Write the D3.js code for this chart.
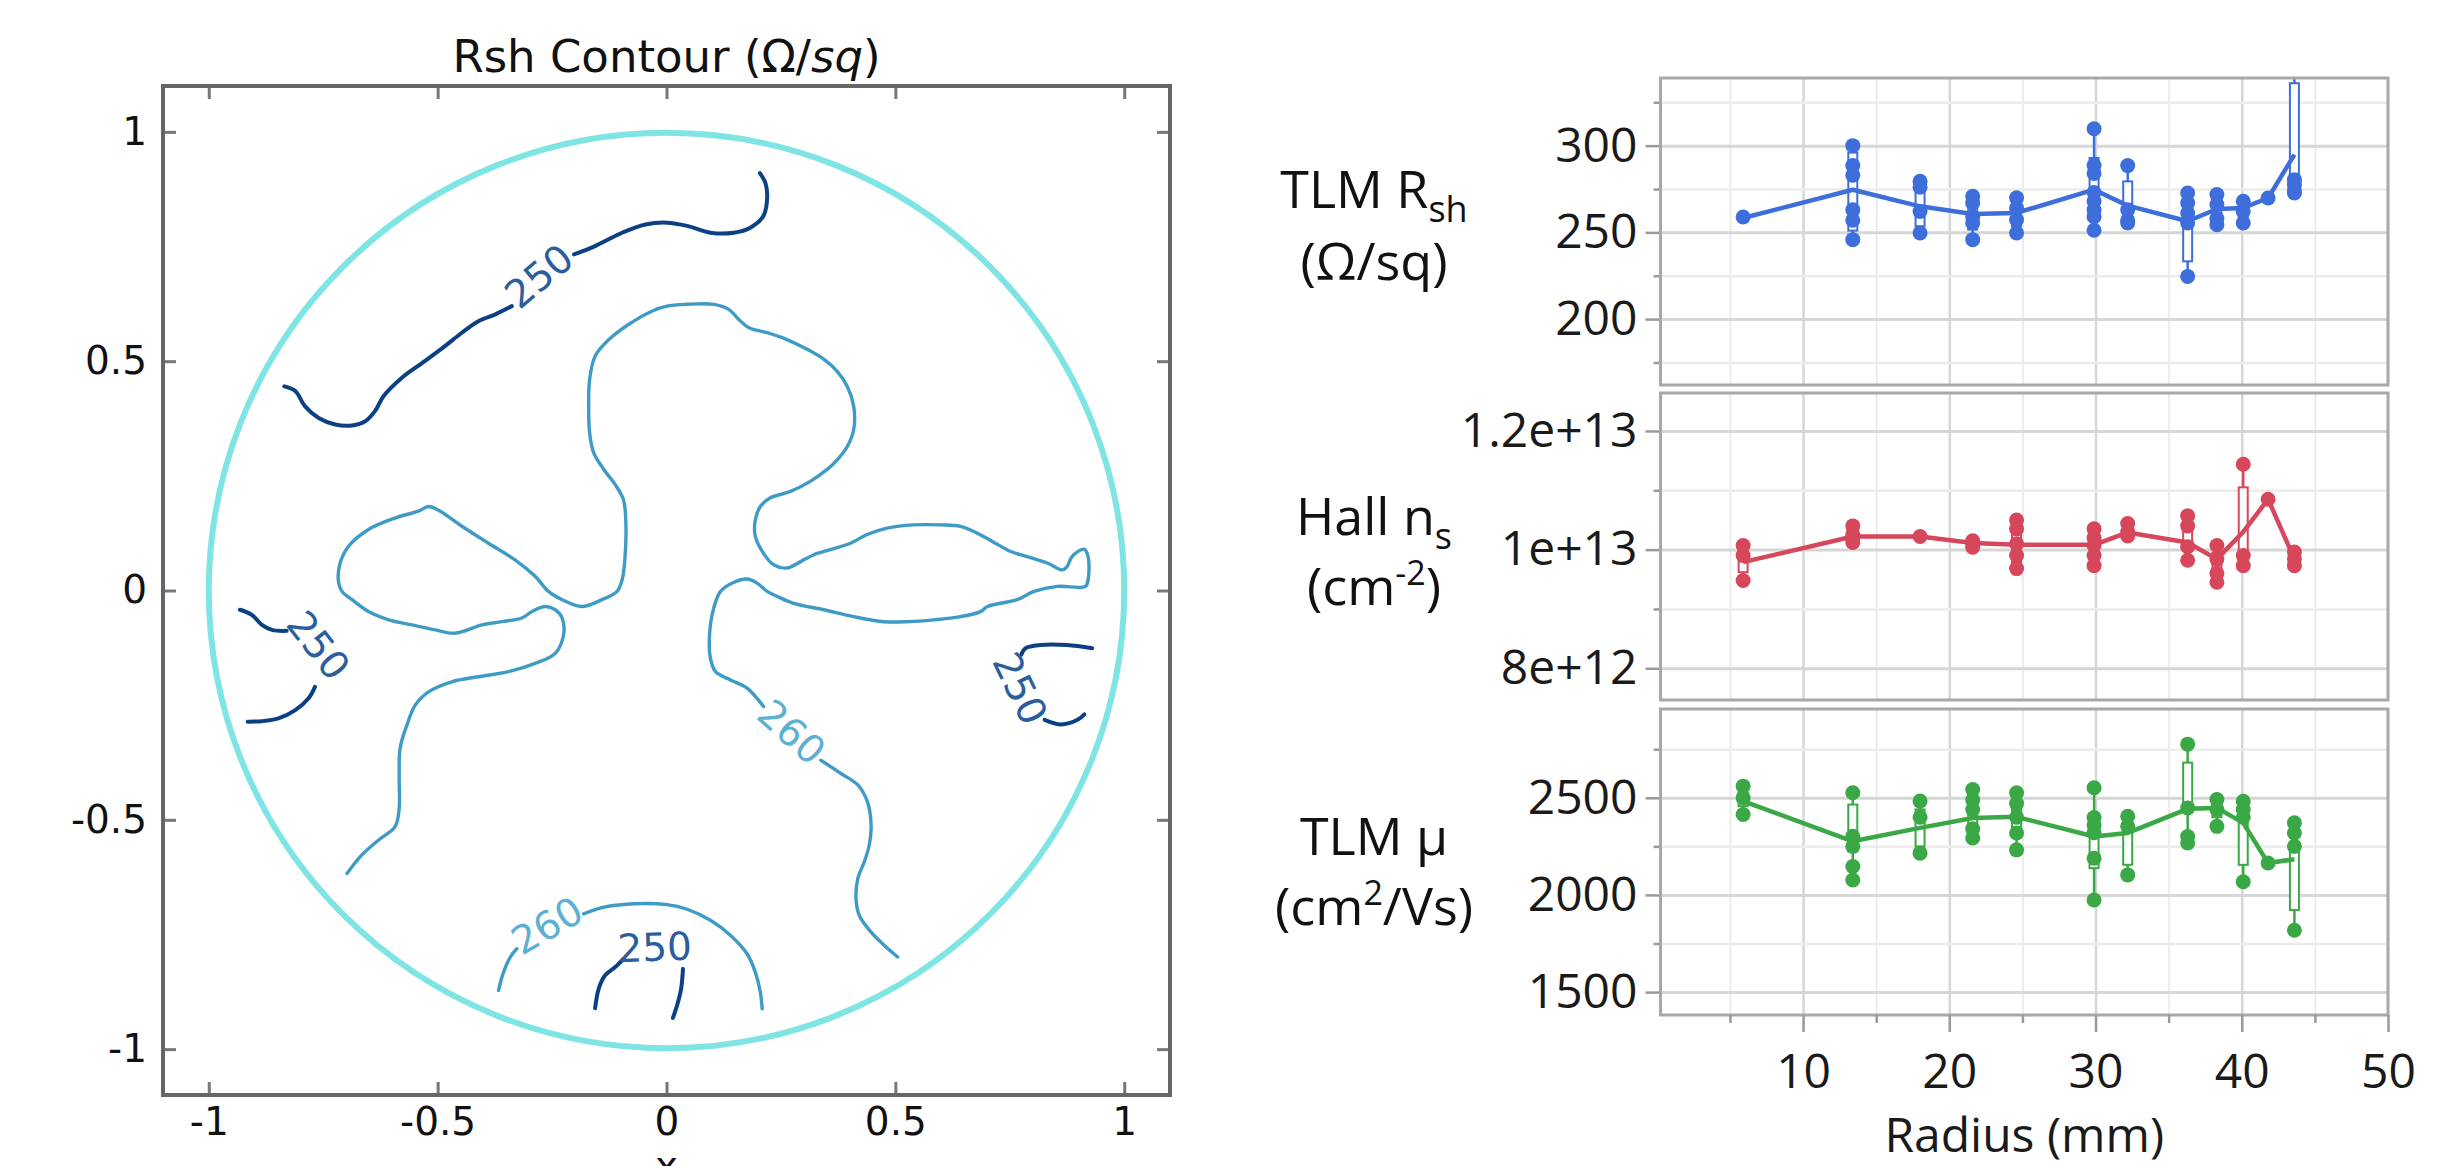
<!DOCTYPE html>
<html>
<head>
<meta charset="utf-8">
<title>Rsh contour and radial profiles</title>
<script src="https://cdn.jsdelivr.net/npm/d3@7"></script>
<style>
  body { margin: 0; background: #fff; }
</style>
</head>
<body>
<script>
// ---------- left: Rsh contour map (wafer coordinates) ----------
var contourTicks = [-1, -0.5, 0, 0.5, 1];

// 250 level, split where the inline labels sit
var top250a = [[-0.835,0.445],[-0.811,0.435],[-0.790,0.402],[-0.760,0.376],[-0.724,0.362],[-0.687,0.360],[-0.658,0.369],[-0.637,0.391],[-0.618,0.424],[-0.578,0.464],[-0.534,0.496],[-0.484,0.533],[-0.447,0.562],[-0.411,0.587],[-0.374,0.602],[-0.338,0.620]];
var top250b = [[-0.202,0.733],[-0.156,0.751],[-0.097,0.780],[-0.046,0.798],[0.001,0.802],[0.045,0.795],[0.096,0.780],[0.147,0.780],[0.183,0.791],[0.212,0.817],[0.220,0.860],[0.216,0.889],[0.204,0.910]];
var left250a = [[-0.932,-0.042],[-0.906,-0.053],[-0.884,-0.075],[-0.862,-0.086],[-0.830,-0.088]];
var left250b = [[-0.768,-0.210],[-0.782,-0.235],[-0.811,-0.261],[-0.848,-0.279],[-0.884,-0.285],[-0.915,-0.286]];
var right250a = [[0.930,-0.126],[0.875,-0.119],[0.817,-0.119],[0.784,-0.126],[0.775,-0.140]];
var right250b = [[0.826,-0.282],[0.862,-0.292],[0.898,-0.282],[0.913,-0.270]];
var bottom250a = [[-0.156,-0.911],[-0.148,-0.868],[-0.134,-0.839],[-0.112,-0.821],[-0.094,-0.803]];
var bottom250b = [[0.036,-0.825],[0.032,-0.868],[0.023,-0.905],[0.014,-0.932]];

// 260 level
var main260 = [[-0.698,-0.617],[-0.666,-0.577],[-0.629,-0.544],[-0.593,-0.515],[-0.584,-0.475],[-0.584,-0.410],[-0.582,-0.344],[-0.567,-0.293],[-0.549,-0.250],[-0.520,-0.221],[-0.469,-0.199],[-0.411,-0.188],[-0.345,-0.177],[-0.287,-0.159],[-0.243,-0.137],[-0.225,-0.097],[-0.228,-0.060],[-0.243,-0.042],[-0.265,-0.035],[-0.294,-0.046],[-0.316,-0.060],[-0.360,-0.068],[-0.403,-0.075],[-0.462,-0.093],[-0.505,-0.086],[-0.556,-0.075],[-0.607,-0.064],[-0.651,-0.046],[-0.687,-0.020],[-0.709,-0.002],[-0.717,0.023],[-0.713,0.060],[-0.695,0.096],[-0.651,0.133],[-0.593,0.158],[-0.542,0.173],[-0.520,0.183],[-0.498,0.175],[-0.447,0.140],[-0.389,0.103],[-0.331,0.067],[-0.287,0.031],[-0.258,-0.002],[-0.228,-0.020],[-0.185,-0.035],[-0.141,-0.020],[-0.108,-0.002],[-0.097,0.023],[-0.091,0.067],[-0.089,0.154],[-0.094,0.198],[-0.112,0.231],[-0.137,0.264],[-0.159,0.300],[-0.168,0.344],[-0.170,0.402],[-0.168,0.460],[-0.156,0.511],[-0.126,0.547],[-0.083,0.580],[-0.032,0.609],[0.001,0.620],[0.045,0.624],[0.103,0.624],[0.136,0.613],[0.158,0.591],[0.180,0.573],[0.220,0.562],[0.263,0.547],[0.307,0.526],[0.344,0.504],[0.373,0.478],[0.395,0.445],[0.409,0.402],[0.409,0.351],[0.395,0.314],[0.373,0.285],[0.351,0.264],[0.314,0.238],[0.271,0.216],[0.227,0.202],[0.205,0.183],[0.194,0.154],[0.194,0.118],[0.212,0.081],[0.234,0.056],[0.263,0.049],[0.293,0.063],[0.322,0.078],[0.358,0.089],[0.402,0.103],[0.438,0.122],[0.482,0.136],[0.540,0.143],[0.599,0.143],[0.642,0.140],[0.679,0.125],[0.712,0.107],[0.752,0.085],[0.788,0.074],[0.832,0.060],[0.865,0.045],[0.875,0.052],[0.886,0.074],[0.912,0.090],[0.921,0.074],[0.921,0.023],[0.915,0.009],[0.854,0.009],[0.803,-0.002],[0.766,-0.020],[0.701,-0.035],[0.686,-0.046],[0.642,-0.057],[0.584,-0.064],[0.526,-0.068],[0.475,-0.068],[0.409,-0.057],[0.344,-0.042],[0.278,-0.028],[0.242,-0.013],[0.220,-0.002],[0.198,0.016],[0.176,0.025],[0.143,0.016],[0.118,-0.002],[0.103,-0.039],[0.094,-0.097],[0.096,-0.148],[0.107,-0.177],[0.140,-0.195],[0.176,-0.213],[0.212,-0.253]];
var leg260 = [[0.337,-0.370],[0.381,-0.399],[0.418,-0.424],[0.439,-0.461],[0.447,-0.512],[0.443,-0.555],[0.432,-0.592],[0.418,-0.628],[0.414,-0.672],[0.421,-0.708],[0.447,-0.745],[0.476,-0.774],[0.505,-0.799]];
var bottom260a = [[-0.367,-0.872],[-0.356,-0.832],[-0.341,-0.799],[-0.327,-0.781]];
var bottom260b = [[-0.181,-0.705],[-0.134,-0.690],[-0.068,-0.683],[0.001,-0.685],[0.045,-0.695],[0.096,-0.719],[0.140,-0.752],[0.176,-0.792],[0.194,-0.832],[0.205,-0.876],[0.209,-0.912]];

var lines250 = [top250a, top250b, left250a, left250b, right250a, right250b, bottom250a, bottom250b];
var lines260 = [main260, leg260, bottom260a, bottom260b];

// inline labels: text, x, y, angle
var labels250 = [["250",-0.279,0.686,-40],["250",-0.760,-0.119,52],["250",0.773,-0.213,64],["250",-0.026,-0.777,-2]];
var labels260 = [["260",0.274,-0.308,42],["260",-0.261,-0.730,-30]];

// ---------- right: radial profiles ----------
var radius = [5.9, 13.4, 18.0, 21.6, 24.6, 29.9, 32.2, 36.3, 38.3, 40.1, 41.8, 43.6];

var rshMean = [258.3, 274.6, 265, 260.6, 261.2, 274.6, 265.4, 256.4, 263.5, 264.1, 269.8, 294.8];
var rshPoints = [[258.9],[300,288.5,283,263,257,245.8],[279.4,276,262,249.6],[270.8,267,259,255.4,245.8],[269.9,264,257.3,249.6],[309.7,288.5,284,273,268,263,259,251.2],[288.5,263,257,255.4],[272.7,267,261.2,255.4,224.6],[271.8,266,258,254.4],[267.9,262.1,255.4],[269.8],[280.4,277.5,274,272.7,350]];
var rshBox = [null,[251,296],[253.5,275.6],[251.6,265],[253.5,266],[258.3,292.9],[262,279.4],[233.3,255.4],[257.6,266],[258,264],null,[274.6,336]];

var nsMean = [9.79e12, 10.22e12, 10.22e12, 10.11e12, 10.08e12, 10.08e12, 10.29e12, 10.12e12, 9.84e12, 10.3e12, 10.85e12, 9.84e12];
var nsPoints = [[10.07e12,9.9e12,9.48e12],[10.40e12,10.26e12,10.2e12,10.12e12],[10.22e12],[10.15e12,10.1e12,10.04e12],[10.5e12,10.35e12,10.1e12,9.9e12,9.68e12],[10.35e12,10.2e12,10.07e12,9.9e12,9.73e12],[10.44e12,10.3e12,10.23e12],[10.57e12,10.4e12,10.05e12,9.82e12],[10.07e12,9.84e12,9.6e12,9.45e12],[11.44e12,9.9e12,9.73e12],[10.85e12],[9.96e12,9.84e12,9.73e12]];
var nsBox = [[9.62e12,9.98e12],null,null,null,[9.79e12,10.35e12],null,null,[10.01e12,10.4e12],[9.62e12,9.95e12],[9.84e12,11.05e12],null,null];

var muMean = [2483, 2276, 2345, 2396, 2402, 2301, 2319, 2443, 2448, 2371, 2164, 2184];
var muPoints = [[2560,2500,2414],[2526,2302,2250,2146,2077],[2483,2400,2215],[2543,2490,2440,2340,2293],[2526,2470,2400,2319,2232],[2552,2398,2360,2320,2189,1974],[2405,2353,2103],[2776,2448,2301,2267],[2491,2440,2353],[2482,2440,2400,2068],[2164],[2371,2319,2250,1818]];
var muBox = [[2457,2526],[2224,2465],[2250,2440],[2353,2491],[2319,2500],[2138,2405],[2155,2371],[2448,2681],[2400,2470],[2155,2422],null,[1922,2232]];

var rshMajor = [200, 250, 300], rshMinor = [175, 225, 275, 325];
var nsMajor = [8e12, 1e13, 1.2e13], nsMinor = [9e12, 1.1e13];
var nsTickText = ["8e+12", "1e+13", "1.2e+13"];
var muMajor = [1500, 2000, 2500], muMinor = [1750, 2250, 2750];
var radiusMajor = [10, 20, 30, 40, 50], radiusMinor = [5, 15, 25, 35, 45];

var svg = d3.select("body").append("svg")
    .attr("width", 2450)
    .attr("height", 1166)
    .style("display", "block");

// ================= contour panel =================
var xC = d3.scaleLinear().domain([-1.1, 1.1]).range([163, 1170]);
var yC = d3.scaleLinear().domain([-1.1, 1.1]).range([1095, 86]);
var c250 = "#0b4184", c260 = "#3e9bc6", cRim = "#7fe4e4";

var left = svg.append("g").style("font-family", "'DejaVu Sans', sans-serif");

left.append("text")
    .attr("x", xC(0)).attr("y", 72)
    .attr("text-anchor", "middle")
    .style("font-size", "45px").attr("fill", "#111")
    .text("Rsh Contour (Ω/")
  .append("tspan").style("font-style", "italic").text("sq")
  .select(function(){ return this.parentNode; })
  .append("tspan").text(")");

// wafer rim
left.append("circle")
    .attr("cx", xC(0)).attr("cy", yC(0))
    .attr("r", xC(1) - xC(0))
    .attr("fill", "none").attr("stroke", cRim).attr("stroke-width", 6);

var lineC = d3.line()
    .x(function(d){ return xC(d[0]); })
    .y(function(d){ return yC(d[1]); })
    .curve(d3.curveCatmullRom.alpha(0.5));

left.append("g").selectAll("path").data(lines260).join("path")
    .attr("d", lineC).attr("fill", "none")
    .attr("stroke", c260).attr("stroke-width", 3.4).attr("stroke-linecap", "round");
left.append("g").selectAll("path").data(lines250).join("path")
    .attr("d", lineC).attr("fill", "none")
    .attr("stroke", c250).attr("stroke-width", 4).attr("stroke-linecap", "round");

function drawLabels(data, col) {
  left.append("g").selectAll("text").data(data).join("text")
      .attr("transform", function(d){ return "translate(" + xC(d[1]) + "," + yC(d[2]) + ") rotate(" + d[3] + ")"; })
      .attr("text-anchor", "middle").attr("dy", "0.36em")
      .style("font-size", "39px").attr("fill", col)
      .text(function(d){ return d[0]; });
}
drawLabels(labels250, "#2a5e9e");
drawLabels(labels260, "#5eb0d2");

// axes with inward ticks on all four sides
function styleAxis(g) {
  g.select(".domain").remove();
  g.selectAll(".tick line").attr("stroke", "#777").attr("stroke-width", 3);
  g.selectAll(".tick text").attr("fill", "#111").style("font-size", "39px")
      .style("font-family", "'DejaVu Sans', sans-serif");
}
left.append("g").attr("transform", "translate(0,1095)")
    .call(d3.axisBottom(xC).tickValues(contourTicks).tickSizeInner(-13).tickSizeOuter(0).tickPadding(12).tickFormat(String))
    .call(styleAxis);
left.append("g").attr("transform", "translate(0,86)")
    .call(d3.axisTop(xC).tickValues(contourTicks).tickSizeInner(-13).tickSizeOuter(0).tickFormat(""))
    .call(styleAxis);
left.append("g").attr("transform", "translate(163,0)")
    .call(d3.axisLeft(yC).tickValues(contourTicks).tickSizeInner(-13).tickSizeOuter(0).tickPadding(16).tickFormat(String))
    .call(styleAxis);
left.append("g").attr("transform", "translate(1170,0)")
    .call(d3.axisRight(yC).tickValues(contourTicks).tickSizeInner(-13).tickSizeOuter(0).tickFormat(""))
    .call(styleAxis);

left.append("rect")
    .attr("x", 163).attr("y", 86).attr("width", 1170 - 163).attr("height", 1095 - 86)
    .attr("fill", "none").attr("stroke", "#666").attr("stroke-width", 4);

// axis label, mostly below the picture edge (as in the source image)
left.append("text").attr("x", xC(0)).attr("y", 1179)
    .attr("text-anchor", "middle").style("font-size", "39px").attr("fill", "#111").text("x");

// ================= profile panels =================
var xR = d3.scaleLinear().domain([0.25, 50]).range([1660.5, 2388]);
var x0 = 1660.5, x1 = 2388;

var panels = [
  {mean: rshMean, pts: rshPoints, box: rshBox, dom: [162, 339], major: rshMajor, minor: rshMinor,
   fmt: function(d){ return String(d); }, color: "#3d6edb", top: 78, bottom: 385},
  {mean: nsMean, pts: nsPoints, box: nsBox, dom: [7.465e12, 1.264e13], major: nsMajor, minor: nsMinor,
   fmt: function(d, i){ return nsTickText[i]; }, color: "#d6475b", top: 393, bottom: 700},
  {mean: muMean, pts: muPoints, box: muBox, dom: [1382, 2957], major: muMajor, minor: muMinor,
   fmt: function(d){ return String(d); }, color: "#3aa845", top: 709, bottom: 1015}
];

var right = svg.append("g").style("font-family", "'Open Sans', 'Noto Sans', sans-serif");

panels.forEach(function(p, k) {
  var y = d3.scaleLinear().domain(p.dom).range([p.bottom, p.top]);
  var g = right.append("g");
  var h = p.bottom - p.top;

  // grid
  g.append("g").attr("transform", "translate(0," + p.bottom + ")")
      .call(d3.axisBottom(xR).tickValues(radiusMinor).tickSize(-h).tickFormat(""))
      .call(function(a){ a.select(".domain").remove(); a.selectAll("line").attr("stroke", "#ececec").attr("stroke-width", 2); });
  g.append("g").attr("transform", "translate(0," + p.bottom + ")")
      .call(d3.axisBottom(xR).tickValues([10, 20, 30, 40]).tickSize(-h).tickFormat(""))
      .call(function(a){ a.select(".domain").remove(); a.selectAll("line").attr("stroke", "#d6d6d6").attr("stroke-width", 2.5); });
  g.append("g").attr("transform", "translate(" + x0 + ",0)")
      .call(d3.axisLeft(y).tickValues(p.minor).tickSize(-(x1 - x0)).tickFormat(""))
      .call(function(a){ a.select(".domain").remove(); a.selectAll("line").attr("stroke", "#ececec").attr("stroke-width", 2.5); });
  g.append("g").attr("transform", "translate(" + x0 + ",0)")
      .call(d3.axisLeft(y).tickValues(p.major).tickSize(-(x1 - x0)).tickFormat(""))
      .call(function(a){ a.select(".domain").remove(); a.selectAll("line").attr("stroke", "#d6d6d6").attr("stroke-width", 3); });

  // y ticks + labels
  g.append("g").attr("transform", "translate(" + x0 + ",0)")
      .call(d3.axisLeft(y).tickValues(p.minor).tickSize(7).tickFormat(""))
      .call(function(a){ a.select(".domain").remove(); a.selectAll("line").attr("stroke", "#9a9a9a").attr("stroke-width", 2.5); });
  g.append("g").attr("transform", "translate(" + x0 + ",0)")
      .call(d3.axisLeft(y).tickValues(p.major).tickSize(15).tickPadding(8).tickFormat(p.fmt))
      .call(function(a){
        a.select(".domain").remove();
        a.selectAll("line").attr("stroke", "#9a9a9a").attr("stroke-width", 2.5);
        a.selectAll("text").attr("fill", "#1a1a1a").style("font-size", "48px")
            .style("font-family", "'Open Sans', 'Noto Sans', sans-serif");
      });

  // marks, clipped to the panel
  var cid = "clip" + k;
  svg.append("clipPath").attr("id", cid).append("rect")
      .attr("x", x0).attr("y", p.top).attr("width", x1 - x0).attr("height", h);
  var m = g.append("g").attr("clip-path", "url(#" + cid + ")");

  m.selectAll(".whisk").data(radius).join("line").attr("class", "whisk")
      .attr("x1", function(d){ return xR(d); }).attr("x2", function(d){ return xR(d); })
      .attr("y1", function(d, i){ return y(d3.min(p.pts[i])); })
      .attr("y2", function(d, i){ return y(d3.max(p.pts[i])); })
      .attr("stroke", p.color).attr("stroke-width", 2.5);

  var boxes = radius.map(function(r, i){ return {r: r, b: p.box[i]}; }).filter(function(d){ return d.b; });
  m.selectAll(".box").data(boxes).join("rect").attr("class", "box")
      .attr("x", function(d){ return xR(d.r) - 4.5; }).attr("width", 9)
      .attr("y", function(d){ return y(d.b[1]); })
      .attr("height", function(d){ return y(d.b[0]) - y(d.b[1]); })
      .attr("fill", "#fff").attr("stroke", p.color).attr("stroke-width", 2);

  m.append("path")
      .datum(radius.map(function(r, i){ return [r, p.mean[i]]; }))
      .attr("d", d3.line().x(function(d){ return xR(d[0]); }).y(function(d){ return y(d[1]); }))
      .attr("fill", "none").attr("stroke", p.color).attr("stroke-width", 4.5)
      .attr("stroke-linejoin", "round");

  var dots = [];
  radius.forEach(function(r, i){ p.pts[i].forEach(function(v){ dots.push([r, v]); }); });
  m.selectAll(".dot").data(dots).join("circle").attr("class", "dot")
      .attr("cx", function(d){ return xR(d[0]); }).attr("cy", function(d){ return y(d[1]); })
      .attr("r", 7.5).attr("fill", p.color);

  g.append("rect")
      .attr("x", x0).attr("y", p.top).attr("width", x1 - x0).attr("height", h)
      .attr("fill", "none").attr("stroke", "#a8a8a8").attr("stroke-width", 3);
});

// radius axis
right.append("g").attr("transform", "translate(0,1015)")
    .call(d3.axisBottom(xR).tickValues(radiusMinor).tickSize(8).tickFormat(""))
    .call(function(a){ a.select(".domain").remove(); a.selectAll("line").attr("stroke", "#9a9a9a").attr("stroke-width", 2.5); });
right.append("g").attr("transform", "translate(0,1015)")
    .call(d3.axisBottom(xR).tickValues(radiusMajor).tickSize(17).tickPadding(22).tickFormat(String))
    .call(function(a){
      a.select(".domain").remove();
      a.selectAll("line").attr("stroke", "#9a9a9a").attr("stroke-width", 2.5);
      a.selectAll("text").attr("fill", "#1a1a1a").style("font-size", "48px")
          .style("font-family", "'Open Sans', 'Noto Sans', sans-serif");
    });
right.append("text").attr("x", (x0 + x1) / 2).attr("y", 1152)
    .attr("text-anchor", "middle").style("font-size", "48px").attr("fill", "#1a1a1a")
    .text("Radius (mm)");

// row titles
var lab = right.append("g").attr("text-anchor", "middle").attr("fill", "#111").style("font-size", "52px");
var t1 = lab.append("text").attr("x", 1374).attr("y", 208).text("TLM R");
t1.append("tspan").attr("dy", 14).style("font-size", "36px").text("sh");
lab.append("text").attr("x", 1374).attr("y", 280).text("(Ω/sq)");

var t2 = lab.append("text").attr("x", 1374).attr("y", 535).text("Hall n");
t2.append("tspan").attr("dy", 14).style("font-size", "36px").text("s");
var t3 = lab.append("text").attr("x", 1374).attr("y", 605).text("(cm");
t3.append("tspan").attr("dy", -20).style("font-size", "34px").text("-2");
t3.append("tspan").attr("dy", 20).text(")");

lab.append("text").attr("x", 1374).attr("y", 855).text("TLM µ");
var t4 = lab.append("text").attr("x", 1374).attr("y", 925).text("(cm");
t4.append("tspan").attr("dy", -20).style("font-size", "34px").text("2");
t4.append("tspan").attr("dy", 20).text("/Vs)");
</script>
</body>
</html>
